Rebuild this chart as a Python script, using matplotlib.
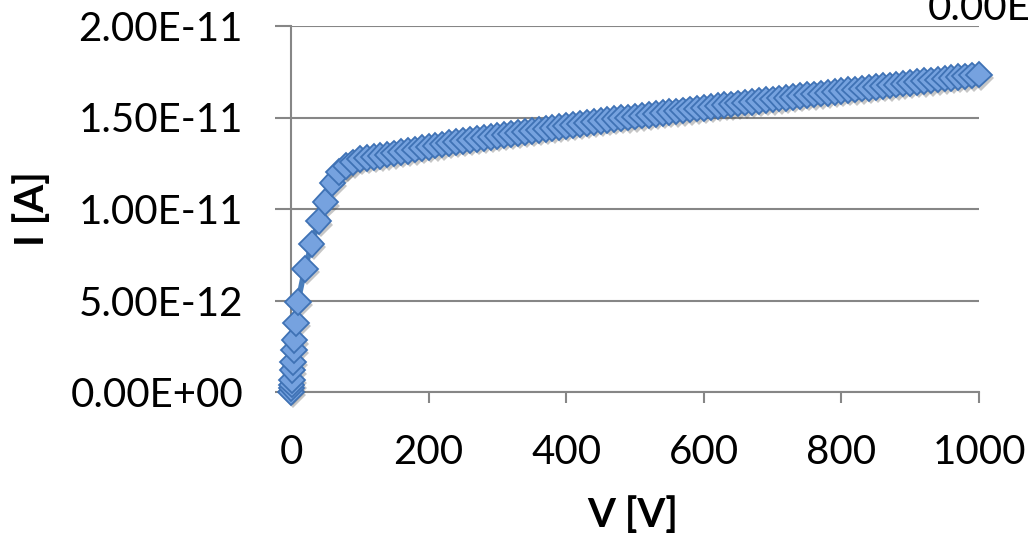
import matplotlib
matplotlib.use("Agg")
import matplotlib.pyplot as plt
import matplotlib.patheffects as pe

# sweep data, current in units of 1e-12 A
v_low = [0, 0.5, 1, 1.5, 2, 3, 4, 5, 7, 10, 20, 30, 40, 50, 60, 70]
i_low = [0.0, 0.2, 0.4, 0.66, 1.2, 1.64, 2.3, 2.84, 3.77, 4.92,
         6.72, 8.09, 9.34, 10.38, 11.42, 12.02]

v_high = [80, 90, 100, 110, 120, 130, 140, 150, 160, 170, 180, 190, 200,
          210, 220, 230, 240, 250, 260, 270, 280, 290, 300, 310, 320, 330,
          340, 350, 360, 370, 380, 390, 400, 410, 420, 430, 440, 450, 460,
          470, 480, 490, 500, 510, 520, 530, 540, 550, 560, 570, 580, 590,
          600, 610, 620, 630, 640, 650, 660, 670, 680, 690, 700, 710, 720,
          730, 740, 750, 760, 770, 780, 790, 800, 810, 820, 830, 840, 850,
          860, 870, 880, 890, 900, 910, 920, 930, 940, 950, 960, 970, 980,
          990, 1000]
i_high = [12.35, 12.55, 12.72, 12.78, 12.84, 12.90, 12.97, 13.04, 13.11,
          13.18, 13.25, 13.32, 13.39, 13.46, 13.53, 13.60, 13.66, 13.71,
          13.77, 13.82, 13.88, 13.93, 13.99, 14.04, 14.10, 14.15, 14.21,
          14.26, 14.32, 14.37, 14.43, 14.48, 14.54, 14.59, 14.65, 14.70,
          14.76, 14.81, 14.86, 14.91, 14.96, 15.00, 15.05, 15.10, 15.15,
          15.20, 15.24, 15.29, 15.34, 15.39, 15.44, 15.48, 15.53, 15.58,
          15.63, 15.68, 15.72, 15.77, 15.81, 15.86, 15.90, 15.95, 15.99,
          16.04, 16.08, 16.13, 16.17, 16.22, 16.26, 16.31, 16.35, 16.40,
          16.44, 16.49, 16.53, 16.58, 16.62, 16.67, 16.71, 16.76, 16.80,
          16.85, 16.89, 16.94, 16.98, 17.03, 17.07, 17.12, 17.16, 17.21,
          17.25, 17.30, 17.34]

x_ticks = [0, 200, 400, 600, 800, 1000]
y_ticks = [0, 5e-12, 1e-11, 1.5e-11, 2e-11]
y_tick_labels = ["0.00E+00", "5.00E-12", "1.00E-11", "1.50E-11", "2.00E-11"]

volts = v_low + v_high
amps = [a * 1e-12 for a in i_low + i_high]

plt.rcParams['font.family'] = ['Lato', 'DejaVu Sans']
grey = "#868686"

fig = plt.figure(figsize=(10.29, 5.41), dpi=100)
ax = fig.add_axes([291/1029, 1-392/541, (979-291)/1029, (392-26)/541])

# connecting line, then the diamonds with a soft drop shadow
ax.plot(volts, amps, color="#4a7ebb", lw=4, clip_on=False, zorder=3)
ax.plot(volts, amps, ls="none", marker="D", ms=13,
        mfc="#76a2df", mec="#3f72b5", mew=1.3, clip_on=False, zorder=4,
        path_effects=[pe.SimplePatchShadow(offset=(1.5, -2.5), shadow_rgbFace="#444444", alpha=0.3),
                      pe.Normal()])

ax.set_xlim(0, 1000)
ax.set_ylim(0, 2e-11)
ax.set_xticks(x_ticks)
ax.set_yticks(y_ticks)
ax.set_yticklabels(y_tick_labels)
ax.grid(axis="y", color=grey, lw=1.5)
ax.set_axisbelow(True)
for s in ["top", "right"]:
    ax.spines[s].set_visible(False)
for s in ["left", "bottom"]:
    ax.spines[s].set_color(grey)
    ax.spines[s].set_linewidth(1.5)
ax.tick_params(axis="x", length=8, width=1.5, color=grey, labelsize=29, pad=22)
ax.tick_params(axis="y", length=11.5, width=1.5, color=grey, labelsize=29, pad=23)

fig.text(633/1029, 1-515/541, "V [V]", fontsize=29, fontweight="bold",
         ha="center", va="center")
fig.text(32/1029, 1-209/541, "I [A]", fontsize=29, fontweight="bold",
         ha="center", va="center", rotation=90)
# label cut off at the top right corner
fig.text(928/1029, 1-20/541, "0.00E+00", fontsize=29, ha="left", va="baseline")

fig.savefig("out.png", dpi=100)
